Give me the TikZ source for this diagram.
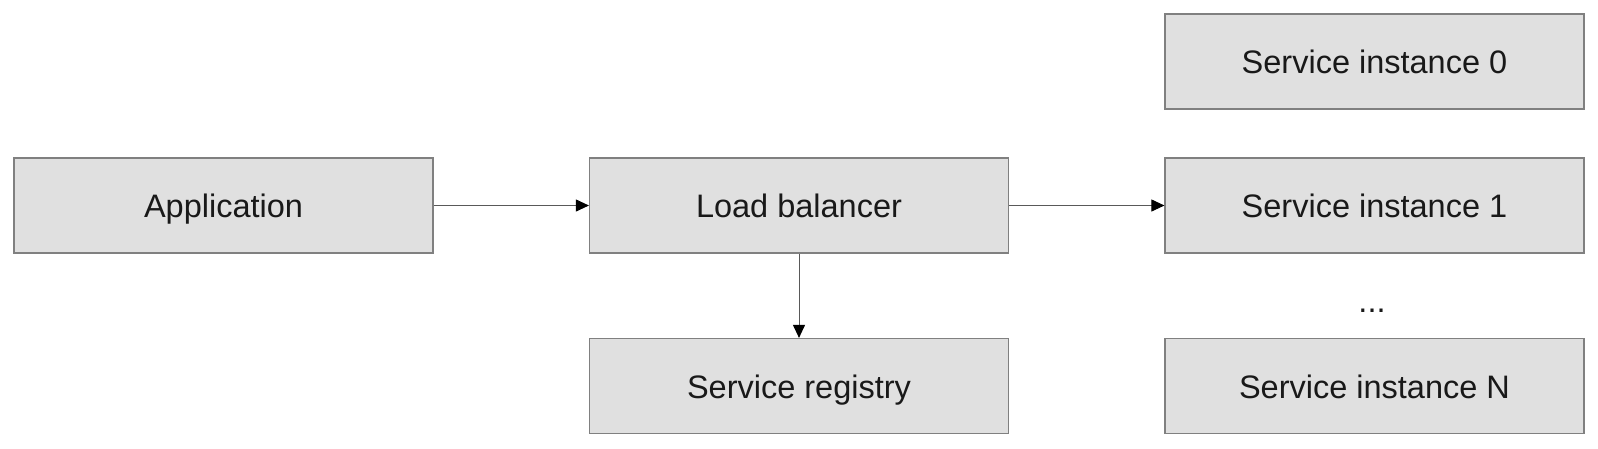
\documentclass[tikz,border=0pt]{standalone}
\usepackage{fontspec}
\setmainfont{Liberation Sans}
\usetikzlibrary{arrows.meta}
\begin{document}
\begin{tikzpicture}[x=1pt,y=-1pt,
  box/.style={draw=black!50, line width=1.2pt, fill=black!12, minimum width=419pt, minimum height=95pt, inner sep=0pt, text height=24pt, text depth=0pt, font=\fontsize{32.5}{38}\selectfont, text=black!90},
  conn/.style={draw=black!65, line width=1pt, -{Triangle[length=13pt,width=12pt,color=black]}}]
\useasboundingbox (0,0) rectangle (1598,448);
\node[box] (app) at (223.5,205.5) {Application};
\node[box] (lb) at (799,205.5) {Load balancer};
\node[box] (reg) at (799,386) {Service registry};
\node[box] (s0) at (1374.5,61.5) {Service instance 0};
\node[box] (s1) at (1374.5,205.5) {Service instance 1};
\node[box] (sn) at (1374.5,386) {Service instance N};
\node[font=\fontsize{32.5}{38}\selectfont, text=black!90] (dots) at (1372,311) {...};
\draw[conn] (app) -- (lb);
\draw[conn] (lb) -- (s1);
\draw[conn] (lb) -- (reg);
\end{tikzpicture}
\end{document}
